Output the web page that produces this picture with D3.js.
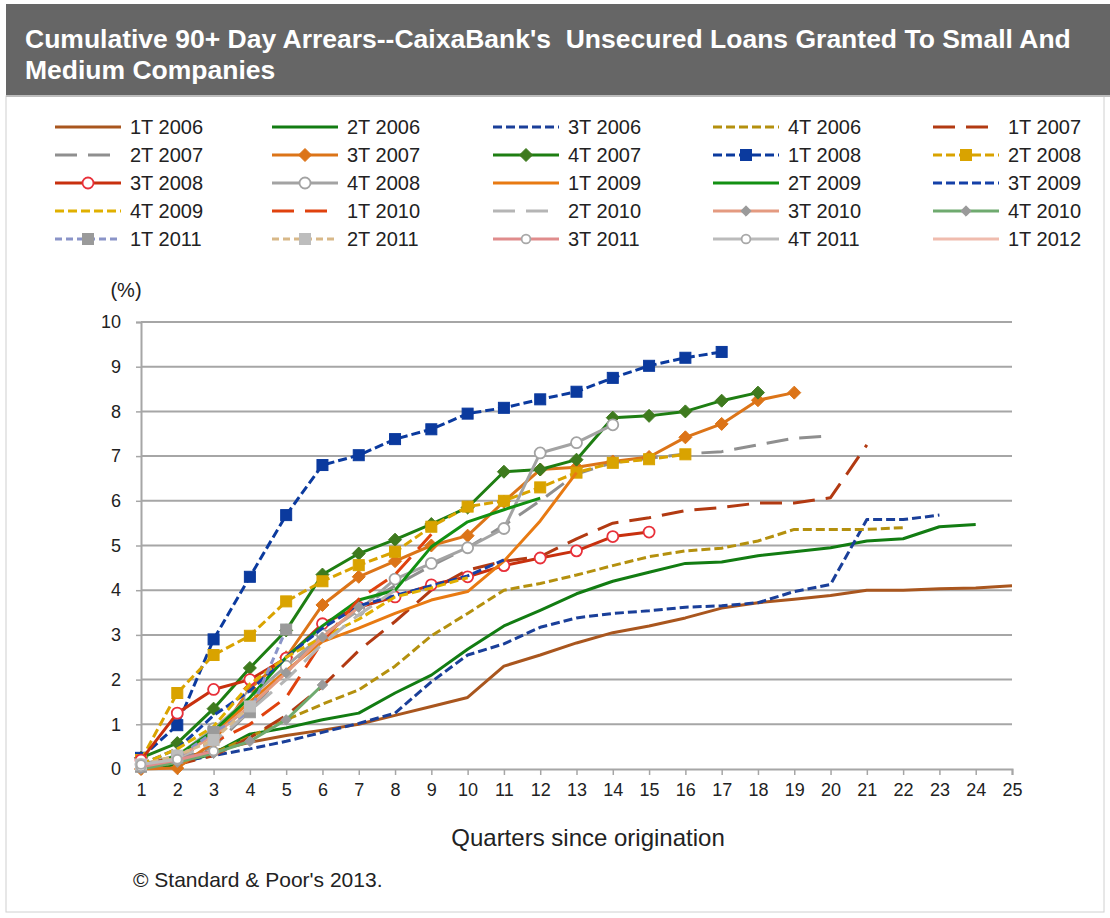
<!DOCTYPE html>
<html><head><meta charset="utf-8">
<script src="https://cdn.jsdelivr.net/npm/d3@7"></script>
<style>
body{margin:0;background:#fff;}
svg{display:block;font-family:"Liberation Sans",Arial,sans-serif;}
</style></head>
<body><svg id="c" width="1110" height="918"></svg>
<script>
// ---------- DATA ----------
const quarters = d3.range(1, 26);
const yTicks = [0,1,2,3,4,5,6,7,8,9,10];
const titleLines = ["Cumulative 90+ Day Arrears--CaixaBank's  Unsecured Loans Granted To Small And", "Medium Companies"];
const xAxisTitle = "Quarters since origination";
const yAxisUnit = "(%)";
const sourceNote = "\u00A9 Standard & Poor's 2013.";
const seriesNames = ["1T 2006","2T 2006","3T 2006","4T 2006","1T 2007","2T 2007","3T 2007","4T 2007","1T 2008","2T 2008","3T 2008","4T 2008","1T 2009","2T 2009","3T 2009","4T 2009","1T 2010","2T 2010","3T 2010","4T 2010","1T 2011","2T 2011","3T 2011","4T 2011","1T 2012"];

const v1T2006 = [0.05,0.25,0.4,0.6,0.75,0.87,1.0,1.2,1.4,1.6,2.3,2.55,2.82,3.05,3.2,3.38,3.6,3.72,3.8,3.88,4.0,4.0,4.03,4.05,4.1];
const v2T2006 = [0.0,0.1,0.35,0.78,0.92,1.1,1.25,1.7,2.1,2.68,3.2,3.55,3.92,4.2,4.4,4.6,4.63,4.77,4.86,4.95,5.1,5.15,5.42,5.47];
const v3T2006 = [0.05,0.15,0.3,0.45,0.62,0.82,1.02,1.25,1.95,2.55,2.8,3.17,3.38,3.48,3.54,3.62,3.65,3.72,3.97,4.13,5.58,5.58,5.68];
const v4T2006 = [0.0,0.15,0.35,0.72,1.1,1.45,1.77,2.3,2.98,3.48,4.0,4.15,4.34,4.55,4.75,4.88,4.94,5.1,5.36,5.36,5.36,5.4];
const v1T2007 = [0.0,0.1,0.3,0.7,1.2,1.85,2.65,3.3,4.0,4.45,4.65,4.75,5.15,5.5,5.62,5.78,5.85,5.95,5.95,6.07,7.25];
const v2T2007 = [0.05,0.2,0.5,1.3,2.2,2.95,3.6,4.1,4.55,4.95,5.45,6.0,6.6,6.85,6.95,7.05,7.1,7.25,7.4,7.45];
const v3T2007 = [0.0,0.02,0.6,1.8,2.5,3.67,4.3,4.65,5.0,5.22,5.98,6.7,6.75,6.88,6.98,7.42,7.72,8.25,8.42];
const v4T2007 = [0.25,0.58,1.35,2.26,3.1,4.35,4.82,5.13,5.48,5.85,6.65,6.7,6.92,7.86,7.9,8.0,8.24,8.42];
const v1T2008 = [0.25,0.98,2.9,4.3,5.68,6.8,7.02,7.38,7.6,7.95,8.08,8.27,8.44,8.75,9.02,9.2,9.33];
const v2T2008 = [0.2,1.7,2.55,2.98,3.75,4.2,4.56,4.86,5.42,5.87,6.0,6.3,6.63,6.85,6.93,7.04];
const v3T2008 = [0.2,1.25,1.78,2.0,2.48,3.25,3.62,3.85,4.12,4.3,4.55,4.72,4.88,5.2,5.3];
const v4T2008 = [0.1,0.3,0.9,1.6,2.3,3.0,3.55,4.25,4.6,4.95,5.38,7.07,7.3,7.7];
const v1T2009 = [0.05,0.25,0.8,1.5,2.2,2.85,3.15,3.48,3.78,3.97,4.65,5.55,6.63];
const v2T2009 = [0.05,0.3,0.85,1.6,2.5,3.2,3.78,4.0,4.97,5.53,5.8,6.06];
const v3T2009 = [0.1,0.45,1.2,1.75,2.5,3.15,3.65,3.88,4.1,4.32,4.68];
const v4T2009 = [0.1,0.45,0.95,1.9,2.5,2.95,3.35,3.85,4.05,4.28];
const v1T2010 = [0.05,0.3,0.6,1.0,1.6,2.85,3.8,4.35,5.25];
const v2T2010 = [0.05,0.25,0.6,1.3,2.0,2.8,3.45,4.0];
const v3T2010 = [0.05,0.25,0.75,1.4,2.15,2.95,3.62];
const v4T2010 = [0.0,0.15,0.35,0.62,1.1,1.88];
const v1T2011 = [0.05,0.25,0.83,1.27,3.12];
const v2T2011 = [0.1,0.3,0.65,1.4];
const v3T2011 = [0.05,0.2,0.4];
const v4T2011 = [0.1,0.22];
const v1T2012 = [0.1];

const seriesValues = [v1T2006,v2T2006,v3T2006,v4T2006,v1T2007,v2T2007,v3T2007,v4T2007,v1T2008,v2T2008,v3T2008,v4T2008,v1T2009,v2T2009,v3T2009,v4T2009,v1T2010,v2T2010,v3T2010,v4T2010,v1T2011,v2T2011,v3T2011,v4T2011,v1T2012];

// ---------- STYLES ----------
const SD = "9,4", LD = "22,11", SD2 = "7,4";
const styles = [
 {c:"#A9561E", d:null},
 {c:"#127C12", d:null},
 {c:"#1A3F99", d:SD},
 {c:"#B4900E", d:SD},
 {c:"#B23A12", d:LD},
 {c:"#8F8F8F", d:LD},
 {c:"#DC7418", d:null, m:"diamond", mf:"#DC7418", ms:"#DC7418"},
 {c:"#1E7E12", d:null, m:"diamond", mf:"#3E7A1E", ms:"#3E7A1E"},
 {c:"#0B3A9E", d:SD, m:"square", mf:"#0B3A9E", ms:"#0B3A9E"},
 {c:"#D9A300", d:SD, m:"square", mf:"#D9A300", ms:"#D9A300"},
 {c:"#C8300E", d:null, m:"circle", mf:"#fff", ms:"#E8303A"},
 {c:"#A3A3A3", d:null, m:"circle", mf:"#fff", ms:"#A3A3A3"},
 {c:"#E87A12", d:null},
 {c:"#129012", d:null},
 {c:"#1440A8", d:SD},
 {c:"#E0B000", d:SD},
 {c:"#E0420E", d:LD},
 {c:"#B5B5B5", d:LD},
 {c:"#E49A80", d:null, m:"diamond", mf:"#9A9A9A", ms:"#9A9A9A", small:true},
 {c:"#6FAA6F", d:null, m:"diamond", mf:"#9A9A9A", ms:"#9A9A9A", small:true},
 {c:"#8A94C8", d:SD2, m:"square", mf:"#9A9A9A", ms:"#9A9A9A"},
 {c:"#D8B888", d:SD2, m:"square", mf:"#BDBDBD", ms:"#BDBDBD"},
 {c:"#E08C8C", d:null, m:"circle", mf:"#fff", ms:"#A8A8A8", small:true},
 {c:"#BBBBBB", d:null, m:"circle", mf:"#fff", ms:"#A8A8A8", small:true},
 {c:"#F0BCAE", d:null}
];

// ---------- DRAW ----------
const svg = d3.select("#c");
const W = 1110, H = 918;
svg.append("rect").attr("x",6).attr("y",96).attr("width",1098).attr("height",816)
  .attr("fill","#fff").attr("stroke","#d0d0d0").attr("stroke-width",1);
svg.append("rect").attr("x",6).attr("y",4).attr("width",W-6).attr("height",92).attr("fill","#666666");
svg.append("line").attr("x1",6).attr("x2",W).attr("y1",96).attr("y2",96).attr("stroke","#bdbdbd").attr("stroke-width",2);
titleLines.forEach((t,i)=>{
  svg.append("text").attr("x",25).attr("y",48+i*31).attr("fill","#fff")
    .attr("font-size",26.5).attr("font-weight","bold").style("white-space","pre").text(t);
});

const x = d3.scaleLinear().domain([1,25]).range([141,1012]);
const y = d3.scaleLinear().domain([0,10]).range([769,322]);

// gridlines
svg.append("g").selectAll("line").data(yTicks.filter(d=>d>0)).join("line")
  .attr("x1",141).attr("x2",1012).attr("y1",d=>y(d)).attr("y2",d=>y(d))
  .attr("stroke","#a6a6a6").attr("stroke-width",2);

// y axis
const ya = svg.append("g").attr("transform","translate(141,0)")
  .call(d3.axisLeft(y).tickValues(yTicks).tickSize(5).tickPadding(15).tickFormat(d3.format("d")));
ya.select(".domain").attr("stroke","#a6a6a6").attr("stroke-width",2);
ya.selectAll(".tick line").attr("stroke","#a6a6a6").attr("stroke-width",1.5);
ya.selectAll("text").attr("font-size",18).attr("fill","#222").attr("font-family","Liberation Sans, Arial, sans-serif");

// x axis
const xa = svg.append("g").attr("transform","translate(0,769)")
  .call(d3.axisBottom(x).tickValues(quarters).tickSize(6).tickPadding(8).tickFormat(d3.format("d")));
xa.select(".domain").attr("stroke","#a6a6a6").attr("stroke-width",2);
xa.selectAll(".tick line").attr("stroke","#a6a6a6").attr("stroke-width",1.5);
xa.selectAll("text").attr("font-size",18).attr("fill","#222").attr("font-family","Liberation Sans, Arial, sans-serif");

svg.append("text").attr("x",126).attr("y",297).attr("text-anchor","middle").attr("font-size",20).attr("fill","#222").text(yAxisUnit);
svg.append("text").attr("x",588).attr("y",846).attr("text-anchor","middle").attr("font-size",24).attr("fill","#222").text(xAxisTitle);
svg.append("text").attr("x",133).attr("y",887).attr("font-size",21).attr("fill","#222").text(sourceNote);

function drawMarker(g, st, cx, cy){
  if(!st.m) return;
  const s = st.small ? 0.8 : 1;
  if(st.m==="diamond"){
    const r = 6.5*s;
    g.append("path").attr("d",`M${cx},${cy-r}L${cx+r},${cy}L${cx},${cy+r}L${cx-r},${cy}Z`)
      .attr("fill",st.mf).attr("stroke",st.ms).attr("stroke-width",1);
  } else if(st.m==="square"){
    const r = 5.5*s;
    g.append("rect").attr("x",cx-r).attr("y",cy-r).attr("width",2*r).attr("height",2*r)
      .attr("fill",st.mf).attr("stroke",st.ms).attr("stroke-width",1);
  } else if(st.m==="circle"){
    const r = 5.5*s;
    g.append("circle").attr("cx",cx).attr("cy",cy).attr("r",r)
      .attr("fill",st.mf).attr("stroke",st.ms).attr("stroke-width",1.8);
  }
}

const line = d3.line().x((d,i)=>x(quarters[i])).y(d=>y(d));
const plot = svg.append("g");
seriesValues.forEach((vals,k)=>{
  const st = styles[k];
  const g = plot.append("g");
  if(vals.length>1){
    g.append("path").attr("d",line(vals)).attr("fill","none").attr("stroke",st.c)
      .attr("stroke-width",3).attr("stroke-linejoin","round")
      .attr("stroke-dasharray",st.d);
  }
  vals.forEach((v,i)=>drawMarker(g, st, x(quarters[i]), y(v)));
});

// legend
const colX = [55,272,493,713,933];
const rowY = [127,155,183,211,239];
seriesNames.forEach((name,k)=>{
  const st = styles[k];
  const cx = colX[k%5], cy = rowY[Math.floor(k/5)];
  const g = svg.append("g");
  g.append("line").attr("x1",cx).attr("x2",cx+66).attr("y1",cy).attr("y2",cy)
    .attr("stroke",st.c).attr("stroke-width",3).attr("stroke-dasharray",st.d);
  drawMarker(g, st, cx+33, cy);
  g.append("text").attr("x",cx+75).attr("y",cy+7).attr("font-size",20).attr("fill","#222").text(name);
});
</script></body></html>
